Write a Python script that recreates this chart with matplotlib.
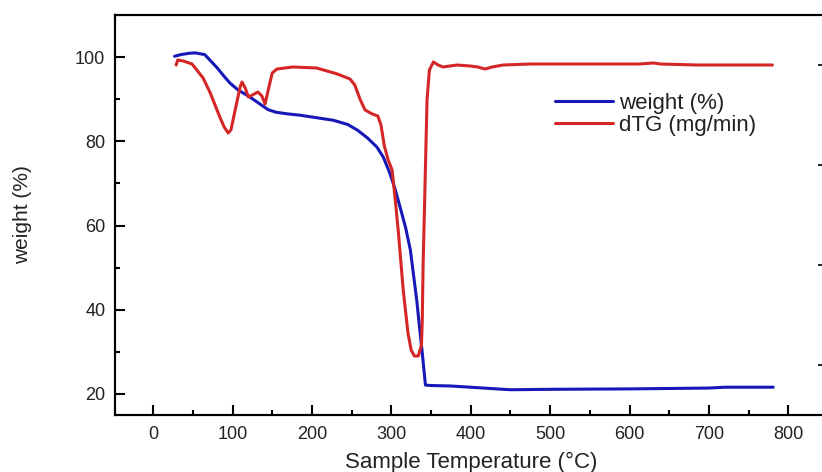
import matplotlib
matplotlib.use("Agg")
import matplotlib.pyplot as plt
from matplotlib.ticker import MultipleLocator

plt.rcParams['font.family'] = ['Liberation Sans', 'DejaVu Sans']

# weight (%) curve
temp_w = [27, 35, 45, 53, 65, 80, 90, 97, 107, 115, 122, 135, 145, 155, 170, 185, 206,
          227, 245, 257, 270, 282, 290, 298, 305, 311, 318, 324, 332, 336, 339, 343,
          350, 374, 391, 433, 450, 500, 600, 650, 700, 720, 781]
weight = [100.2, 100.6, 100.9, 101.0, 100.6, 97.6, 95.3, 93.8, 92.2, 91.3, 90.5, 88.8,
          87.5, 86.9, 86.5, 86.2, 85.6, 85.0, 84.0, 82.7, 80.8, 78.6, 76.2, 72.5, 68.5,
          64.4, 59.5, 54.2, 42.3, 35.0, 29.7, 22.1, 22.0, 21.9, 21.7, 21.2, 21.0, 21.1,
          21.2, 21.3, 21.4, 21.6, 21.6]

# dTG (mg/min) curve
temp_d = [29, 31, 38, 49, 55, 63, 72, 78, 84, 89.5, 94.5, 98, 102, 106, 110, 112, 116,
          120, 125, 132, 137, 141, 145, 150, 156, 176, 206, 232, 248, 254, 261, 267,
          276, 283, 287, 291, 296, 301, 305, 309, 315, 321, 325, 329, 334, 338, 339,
          340, 343, 345, 348, 353, 359, 365, 374, 383, 399, 409, 418, 427, 441, 475,
          563, 613, 630, 639, 685, 780]
dtg = [0.0, 0.05, 0.04, 0.01, -0.05, -0.13, -0.28, -0.40, -0.52, -0.62, -0.68, -0.65,
       -0.50, -0.35, -0.21, -0.17, -0.23, -0.32, -0.30, -0.27, -0.31, -0.39, -0.25,
       -0.08, -0.04, -0.02, -0.03, -0.09, -0.14, -0.20, -0.35, -0.45, -0.49, -0.51,
       -0.60, -0.80, -0.95, -1.05, -1.35, -1.68, -2.25, -2.68, -2.85, -2.91, -2.91,
       -2.80, -2.55, -2.02, -1.02, -0.35, -0.05, 0.03, 0.0, -0.02, -0.01, 0.0, -0.01,
       -0.02, -0.04, -0.02, 0.0, 0.01, 0.01, 0.01, 0.02, 0.01, 0.0, 0.0]

x_ticks = [0, 100, 200, 300, 400, 500, 600, 700, 800]
y_ticks = [20, 40, 60, 80, 100]

blue = '#1818b8'
red = '#d42626'
txt = '#222222'

fig = plt.figure(figsize=(8.22, 4.72), dpi=100)
ax = fig.add_axes([115/822, 57/472, 713/822, 400/472])
ax2 = ax.twinx()

l1, = ax.plot(temp_w, weight, color=blue, lw=2.2, solid_joinstyle='round',
              solid_capstyle='round', zorder=3)
l2, = ax2.plot(temp_d, dtg, color=red, lw=2.2, solid_joinstyle='round',
               solid_capstyle='round', zorder=2)

ax.set_xlim(-48, 850)
ax.set_ylim(15, 110)
ax2.set_ylim(-3.5, 0.5)

ax.set_xticks(x_ticks)
ax.set_yticks(y_ticks)
ax.xaxis.set_minor_locator(MultipleLocator(50))
ax.yaxis.set_minor_locator(MultipleLocator(10))
ax2.yaxis.set_major_locator(MultipleLocator(1))
ax2.yaxis.set_minor_locator(MultipleLocator(0.5))

for a in (ax, ax2):
    for s in a.spines.values():
        s.set_linewidth(1.5)
ax.tick_params(axis='both', which='major', direction='in', length=7, width=1.5,
               labelsize=13, pad=7, colors='black', labelcolor=txt)
ax.tick_params(axis='both', which='minor', direction='in', length=3.5, width=1.5)
ax.tick_params(axis='x', which='major', pad=8)
ax2.tick_params(axis='y', which='major', direction='in', length=7, width=1.2,
                labelright=False)
ax2.tick_params(axis='y', which='minor', direction='in', length=3.5, width=1.2)

ax.set_xlabel('Sample Temperature (°C)', fontsize=16, color=txt, labelpad=6)
ax.set_ylabel('weight (%)', fontsize=15, color=txt, labelpad=31)

leg = ax.legend([l1, l2], ['weight (%)', 'dTG (mg/min)'], loc='upper left',
                bbox_to_anchor=(555/822, (472-93)/472), bbox_transform=fig.transFigure,
                frameon=False, fontsize=16, handlelength=2.6, handletextpad=0.3,
                labelspacing=0.05, borderpad=0, borderaxespad=0)
for t in leg.get_texts():
    t.set_color(txt)

fig.savefig('out.png', dpi=100)
